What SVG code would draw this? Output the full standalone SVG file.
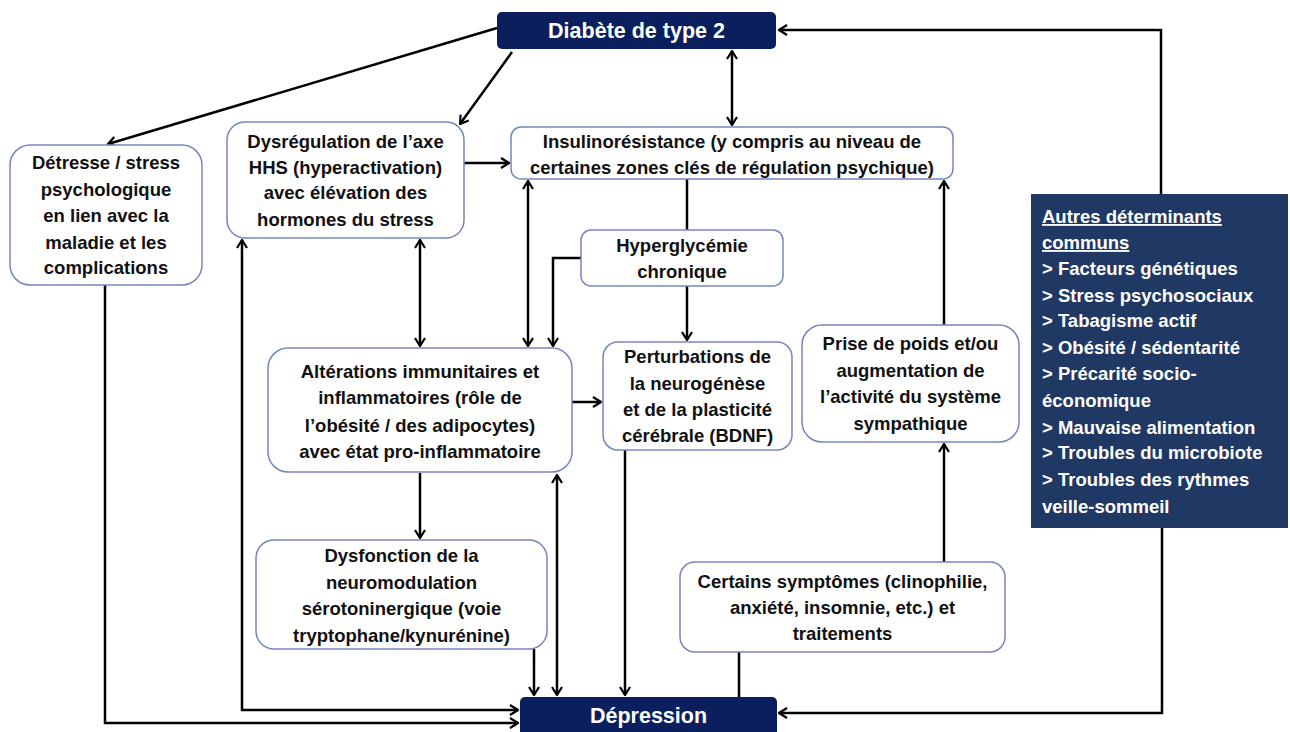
<svg xmlns="http://www.w3.org/2000/svg" width="1290" height="732" viewBox="0 0 1290 732">
<style>
.n{fill:#ffffff;stroke:#7586bd;stroke-width:1.5}
.t{font-family:"Liberation Sans",Arial,sans-serif;font-weight:bold;font-size:18.5px;fill:#111111;text-anchor:middle}
.w{font-family:"Liberation Sans",Arial,sans-serif;font-weight:bold;fill:#ffffff}
.c{fill:none;stroke:#000000;stroke-width:2.5}
</style>
<defs>
<marker id="a" viewBox="0 0 10 12" refX="9" refY="6" markerWidth="10" markerHeight="12" markerUnits="userSpaceOnUse" orient="auto-start-reverse">
<path d="M1,1 L9,6 L1,11" fill="none" stroke="#000" stroke-width="2.2"/>
</marker>
</defs>
<rect width="1290" height="732" fill="#ffffff"/>
<g id="connectors">
<path class="c" d="M497,28 L108,144" marker-end="url(#a)"/>
<path class="c" d="M512,52 L460,124" marker-end="url(#a)"/>
<path class="c" d="M732,51 V125" marker-start="url(#a)" marker-end="url(#a)"/>
<path class="c" d="M1161,194 V30 H779" marker-end="url(#a)"/>
<path class="c" d="M464,163 H509" marker-end="url(#a)"/>
<path class="c" d="M687,179 V230"/>
<path class="c" d="M581,258 H553 V346" marker-end="url(#a)"/>
<path class="c" d="M687,286 V340" marker-end="url(#a)"/>
<path class="c" d="M528,181 V346" marker-start="url(#a)" marker-end="url(#a)"/>
<path class="c" d="M420,240 V346" marker-start="url(#a)" marker-end="url(#a)"/>
<path class="c" d="M944,325 V181" marker-end="url(#a)"/>
<path class="c" d="M944,562 V444" marker-end="url(#a)"/>
<path class="c" d="M572,402 H601" marker-end="url(#a)"/>
<path class="c" d="M420,473 V538" marker-end="url(#a)"/>
<path class="c" d="M534,649 V695" marker-end="url(#a)"/>
<path class="c" d="M557,475 V695" marker-start="url(#a)" marker-end="url(#a)"/>
<path class="c" d="M625,450 V695" marker-end="url(#a)"/>
<path class="c" d="M739,652 V697"/>
<path class="c" d="M518,710 H242 V240" marker-start="url(#a)" marker-end="url(#a)"/>
<path class="c" d="M105,285 V723 H518" marker-end="url(#a)"/>
<path class="c" d="M1162,528 V713 H779" marker-end="url(#a)"/>
</g>
<g id="diabete">
<rect x="497" y="12" width="279" height="37" rx="5" fill="#0b1f5e"/>
<text class="w" x="636.5" y="37.5" font-size="21.5" text-anchor="middle">Diabète de type 2</text>
</g>
<g id="depression">
<rect x="520" y="697" width="257" height="45" rx="5" fill="#0b1f5e"/>
<text class="w" x="648.5" y="722.5" font-size="21.5" text-anchor="middle">Dépression</text>
</g>
<g id="detresse">
<rect class="n" x="10" y="145" width="192" height="140" rx="20"/>
<text class="t" x="106" y="169">Détresse / stress</text>
<text class="t" x="106" y="196">psychologique</text>
<text class="t" x="106" y="222">en lien avec la</text>
<text class="t" x="106" y="249">maladie et les</text>
<text class="t" x="106" y="274">complications</text>
</g>
<g id="hhs">
<rect class="n" x="227" y="122" width="237" height="116" rx="18"/>
<text class="t" x="345.5" y="148">Dysrégulation de l’axe</text>
<text class="t" x="345.5" y="174">HHS (hyperactivation)</text>
<text class="t" x="345.5" y="199">avec élévation des</text>
<text class="t" x="345.5" y="226">hormones du stress</text>
</g>
<g id="insulino">
<rect class="n" x="511" y="127" width="442" height="52" rx="10"/>
<text class="t" x="732" y="148">Insulinorésistance (y compris au niveau de</text>
<text class="t" x="732" y="174">certaines zones clés de régulation psychique)</text>
</g>
<g id="hyperglycemie">
<rect class="n" x="581" y="230" width="202" height="56" rx="10"/>
<text class="t" x="682" y="252">Hyperglycémie</text>
<text class="t" x="682" y="278">chronique</text>
</g>
<g id="alterations">
<rect class="n" x="268" y="348" width="304" height="124" rx="20"/>
<text class="t" x="420" y="378">Altérations immunitaires et</text>
<text class="t" x="420" y="404">inflammatoires (rôle de</text>
<text class="t" x="420" y="432">l’obésité / des adipocytes)</text>
<text class="t" x="420" y="458">avec état pro-inflammatoire</text>
</g>
<g id="perturbations">
<rect class="n" x="603" y="342" width="189" height="108" rx="15"/>
<text class="t" x="697.5" y="363">Perturbations de</text>
<text class="t" x="697.5" y="390">la neurogénèse</text>
<text class="t" x="697.5" y="416">et de la plasticité</text>
<text class="t" x="697.5" y="442">cérébrale (BDNF)</text>
</g>
<g id="prise">
<rect class="n" x="802" y="325" width="217" height="117" rx="20"/>
<text class="t" x="910.5" y="350">Prise de poids et/ou</text>
<text class="t" x="910.5" y="377">augmentation de</text>
<text class="t" x="910.5" y="403">l’activité du système</text>
<text class="t" x="910.5" y="430">sympathique</text>
</g>
<g id="certains">
<rect class="n" x="680" y="562" width="325" height="90" rx="15"/>
<text class="t" x="842.5" y="588">Certains symptômes (clinophilie,</text>
<text class="t" x="842.5" y="614">anxiété, insomnie, etc.) et</text>
<text class="t" x="842.5" y="640">traitements</text>
</g>
<g id="dysfonction">
<rect class="n" x="256" y="540" width="291" height="109" rx="18"/>
<text class="t" x="401.5" y="562">Dysfonction de la</text>
<text class="t" x="401.5" y="589">neuromodulation</text>
<text class="t" x="401.5" y="615">sérotoninergique (voie</text>
<text class="t" x="401.5" y="642">tryptophane/kynurénine)</text>
</g>
<g id="autres">
<rect x="1031" y="194" width="257" height="334" fill="#1f3864"/>
<g class="w" font-size="18.5">
<text x="1042" y="223" text-decoration="underline">Autres déterminants</text>
<text x="1042" y="249" text-decoration="underline">communs</text>
<text x="1042" y="275">&gt; Facteurs génétiques</text>
<text x="1042" y="302">&gt; Stress psychosociaux</text>
<text x="1042" y="327">&gt; Tabagisme actif</text>
<text x="1042" y="354">&gt; Obésité / sédentarité</text>
<text x="1042" y="380">&gt; Précarité socio-</text>
<text x="1042" y="407">économique</text>
<text x="1042" y="434">&gt; Mauvaise alimentation</text>
<text x="1042" y="459">&gt; Troubles du microbiote</text>
<text x="1042" y="486">&gt; Troubles des rythmes</text>
<text x="1042" y="513">veille-sommeil</text>
</g>
</g>
</svg>
